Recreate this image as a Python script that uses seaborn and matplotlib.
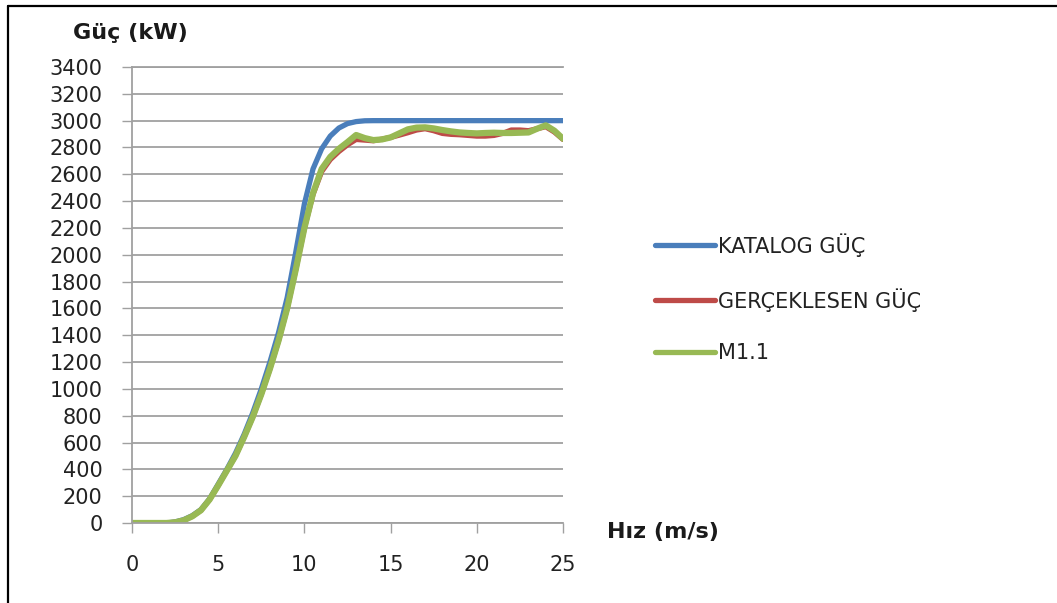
import matplotlib
matplotlib.use("Agg")
import matplotlib.pyplot as plt
from matplotlib.lines import Line2D
import seaborn as sns
import pandas as pd

speed = [0, 0.5, 1, 1.5, 2, 2.5, 3, 3.5, 4, 4.5, 5, 5.5, 6, 6.5, 7, 7.5, 8, 8.5, 9, 9.5,
         10, 10.5, 11, 11.5, 12, 12.5, 13, 13.5, 14, 14.5, 15, 15.5, 16, 16.5, 17, 17.5,
         18, 18.5, 19, 19.5, 20, 20.5, 21, 21.5, 22, 22.5, 23, 23.5, 24, 24.5, 25]
katalog = [0, 0, 0, 0, 0, 8, 25, 55, 100, 180, 290, 400, 520, 660, 820, 1000, 1200, 1420, 1680, 2020,
           2380, 2640, 2790, 2885, 2945, 2978, 2993, 2999, 3000, 3000, 3000, 3000, 3000, 3000, 3000, 3000,
           3000, 3000, 3000, 3000, 3000, 3000, 3000, 3000, 3000, 3000, 3000, 3000, 3000, 3000, 3000]
gerceklesen = [0, 0, 0, 0, 0, 5, 20, 50, 95, 175, 280, 390, 500, 640, 790, 960, 1150, 1360, 1600, 1890,
               2200, 2450, 2620, 2710, 2770, 2820, 2860, 2855, 2850, 2862, 2875, 2892, 2910, 2930, 2940, 2925,
               2905, 2898, 2895, 2890, 2885, 2885, 2890, 2905, 2930, 2930, 2925, 2940, 2955, 2915, 2860]
m11 = [0, 0, 0, 0, 0, 5, 20, 50, 95, 175, 280, 390, 500, 640, 790, 960, 1150, 1360, 1600, 1890,
       2200, 2460, 2640, 2730, 2790, 2840, 2893, 2870, 2855, 2860, 2875, 2905, 2935, 2948, 2950, 2942,
       2930, 2920, 2912, 2908, 2905, 2908, 2910, 2908, 2908, 2910, 2912, 2940, 2965, 2925, 2865]
series_names = ["KATALOG GÜÇ", "GERÇEKLESEN GÜÇ", "M1.1"]
colors = ["#4a7ebb", "#be4b48", "#98b954"]
y_ticks = list(range(0, 3401, 200))
x_ticks = [0, 5, 10, 15, 20, 25]

sns.set_style("white")
plt.rcParams['font.family'] = ['DejaVu Sans']

fig = plt.figure(figsize=(10.57, 6.03), dpi=100)
ax = fig.add_axes([132/1057, 1-523/603, (563-132)/1057, (523-67)/603])

n = len(speed)
df = pd.DataFrame({"speed": speed * 3,
                   "power": katalog + gerceklesen + m11,
                   "series": [series_names[0]] * n + [series_names[1]] * n + [series_names[2]] * n})
widths = [3.8, 3.8, 4.5]
for name, c, w in zip(series_names, colors, widths):
    sub = df[df["series"] == name]
    sns.lineplot(data=sub, x="speed", y="power", ax=ax, color=c, linewidth=w,
                 label=name, legend=False, solid_capstyle="round", solid_joinstyle="round")

ax.set_xlim(0, 25)
ax.set_ylim(0, 3400)
ax.set_xticks(x_ticks)
ax.set_yticks(y_ticks)
ax.set_xlabel("")
ax.set_ylabel("")
ax.grid(axis="y", color="#a0a0a0", linewidth=1.3)
ax.grid(axis="x", visible=False)
ax.spines["right"].set_visible(False)
for s in ["left", "bottom", "top"]:
    ax.spines[s].set_color("#a0a0a0")
    ax.spines[s].set_linewidth(1.3)
ax.tick_params(axis="both", which="major", length=7.2, width=1.0, color="#a0a0a0",
               labelsize=15, labelcolor="#222222")
ax.tick_params(axis="x", direction="out", pad=16, bottom=True)
ax.tick_params(axis="y", direction="out", pad=14, left=True)

fig.text(73/1057, 1-33/603, "Güç (kW)", fontsize=16, fontweight="bold", ha="left", va="center", color="#1a1a1a")
fig.text(607/1057, 1-532/603, "Hız (m/s)", fontsize=16, fontweight="bold", ha="left", va="center", color="#1a1a1a")

handles = [Line2D([0], [0], color=c, linewidth=3.8, solid_capstyle="round") for c in colors]
fig.legend(handles, series_names, loc="center left", bbox_to_anchor=(636/1057, 1-298/603),
           frameon=False, fontsize=15, handlelength=2.9, handletextpad=0.15, labelspacing=1.5,
           labelcolor="#222222")

fig.add_artist(Line2D([8/1057, 8/1057], [0, 1-6/603], color="black", linewidth=1.6, transform=fig.transFigure))
fig.add_artist(Line2D([8/1057, 1], [1-6/603, 1-6/603], color="black", linewidth=1.6, transform=fig.transFigure))

fig.savefig("out.png", dpi=100)
